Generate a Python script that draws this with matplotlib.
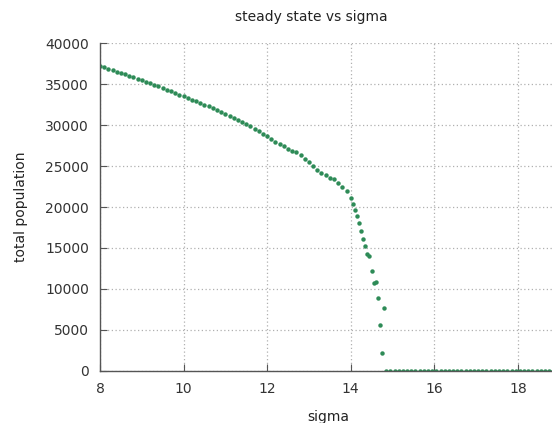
import numpy as np
import matplotlib.pyplot as plt

# sigma sampled every 0.1 up to 13.9, finer (0.05) through the collapse
sigma_coarse = [8.0, 8.1, 8.2, 8.3, 8.4, 8.5, 8.6, 8.7, 8.8, 8.9,
                9.0, 9.1, 9.2, 9.3, 9.4, 9.5, 9.6, 9.7, 9.8, 9.9,
                10.0, 10.1, 10.2, 10.3, 10.4, 10.5, 10.6, 10.7, 10.8, 10.9,
                11.0, 11.1, 11.2, 11.3, 11.4, 11.5, 11.6, 11.7, 11.8, 11.9,
                12.0, 12.1, 12.2, 12.3, 12.4, 12.5, 12.6, 12.7, 12.8, 12.9,
                13.0, 13.1, 13.2, 13.3, 13.4, 13.5, 13.6, 13.7, 13.8, 13.9]
pop_coarse = [37230, 37060, 36890, 36720, 36550, 36380, 36200, 36020, 35840, 35660,
              35480, 35300, 35120, 34940, 34740, 34540, 34340, 34140, 33940, 33730,
              33520, 33310, 33100, 32950, 32740, 32510, 32280, 32040, 31800, 31560,
              31320, 31080, 30840, 30600, 30360, 30120, 29880, 29580, 29280, 28960,
              28640, 28320, 28000, 27700, 27420, 27140, 26870, 26660, 26300, 25890,
              25450, 25000, 24530, 24180, 23900, 23570, 23380, 22890, 22440, 21990]

sigma_fine = [14.0, 14.05, 14.1, 14.15, 14.2, 14.25, 14.3, 14.35, 14.4,
              14.45, 14.5, 14.55, 14.6, 14.65, 14.7, 14.75, 14.8]
pop_fine = [21140, 20330, 19590, 18940, 18050, 17110, 16060, 15240, 14270,
            14010, 12160, 10720, 10840, 8860, 5570, 2110, 7650]

sigma_dead = [14.85, 14.95, 15.05, 15.15, 15.25, 15.35, 15.45, 15.55, 15.65, 15.75,
              15.85, 15.95, 16.05, 16.15, 16.25, 16.35, 16.45, 16.55, 16.65, 16.75,
              16.85, 16.95, 17.05, 17.15, 17.25, 17.35, 17.45, 17.55, 17.65, 17.75,
              17.85, 17.95, 18.05, 18.15, 18.25, 18.35, 18.45, 18.55, 18.65, 18.75,
              18.85, 18.95]
pop_dead = [0] * len(sigma_dead)

sigma = sigma_coarse + sigma_fine + sigma_dead
population = pop_coarse + pop_fine + pop_dead

xticks = [8, 10, 12, 14, 16, 18]
yticks = [0, 5000, 10000, 15000, 20000, 25000, 30000, 35000, 40000]

W, H = 552, 423
fig = plt.figure(figsize=(W / 100, H / 100), dpi=100)
ax = fig.add_axes([100 / W, 1 - 370.7 / H, 1 - 100 / W + 0.01, (370.7 - 43.3) / H])

ax.plot(sigma, population, 'o', color='#2e8b57', ms=3.2, mew=0)

ax.set_xlim(8, 18.95)
ax.set_ylim(0, 40000)
ax.set_xticks(xticks)
ax.set_yticks(yticks)

ax.grid(True, color='#b0b0b0', linestyle=(0, (1, 2)), linewidth=0.9)
ax.set_axisbelow(True)
for side in ['top', 'right']:
    ax.spines[side].set_visible(False)
for side in ['left', 'bottom']:
    ax.spines[side].set_color('#555555')
    ax.spines[side].set_linewidth(1.0)
ax.tick_params(direction='in', length=5, color='#555555', labelsize=10,
               labelcolor='#333333', pad=8)

ax.set_xlabel('sigma', fontsize=10, color='#222222', labelpad=10)
ax.set_ylabel('total population', fontsize=10, color='#222222', labelpad=12)
fig.text(311 / W, 1 - 17 / H, 'steady state vs sigma', ha='center', va='center',
         fontsize=10, color='#222222')

fig.savefig('out.png', dpi=100)
